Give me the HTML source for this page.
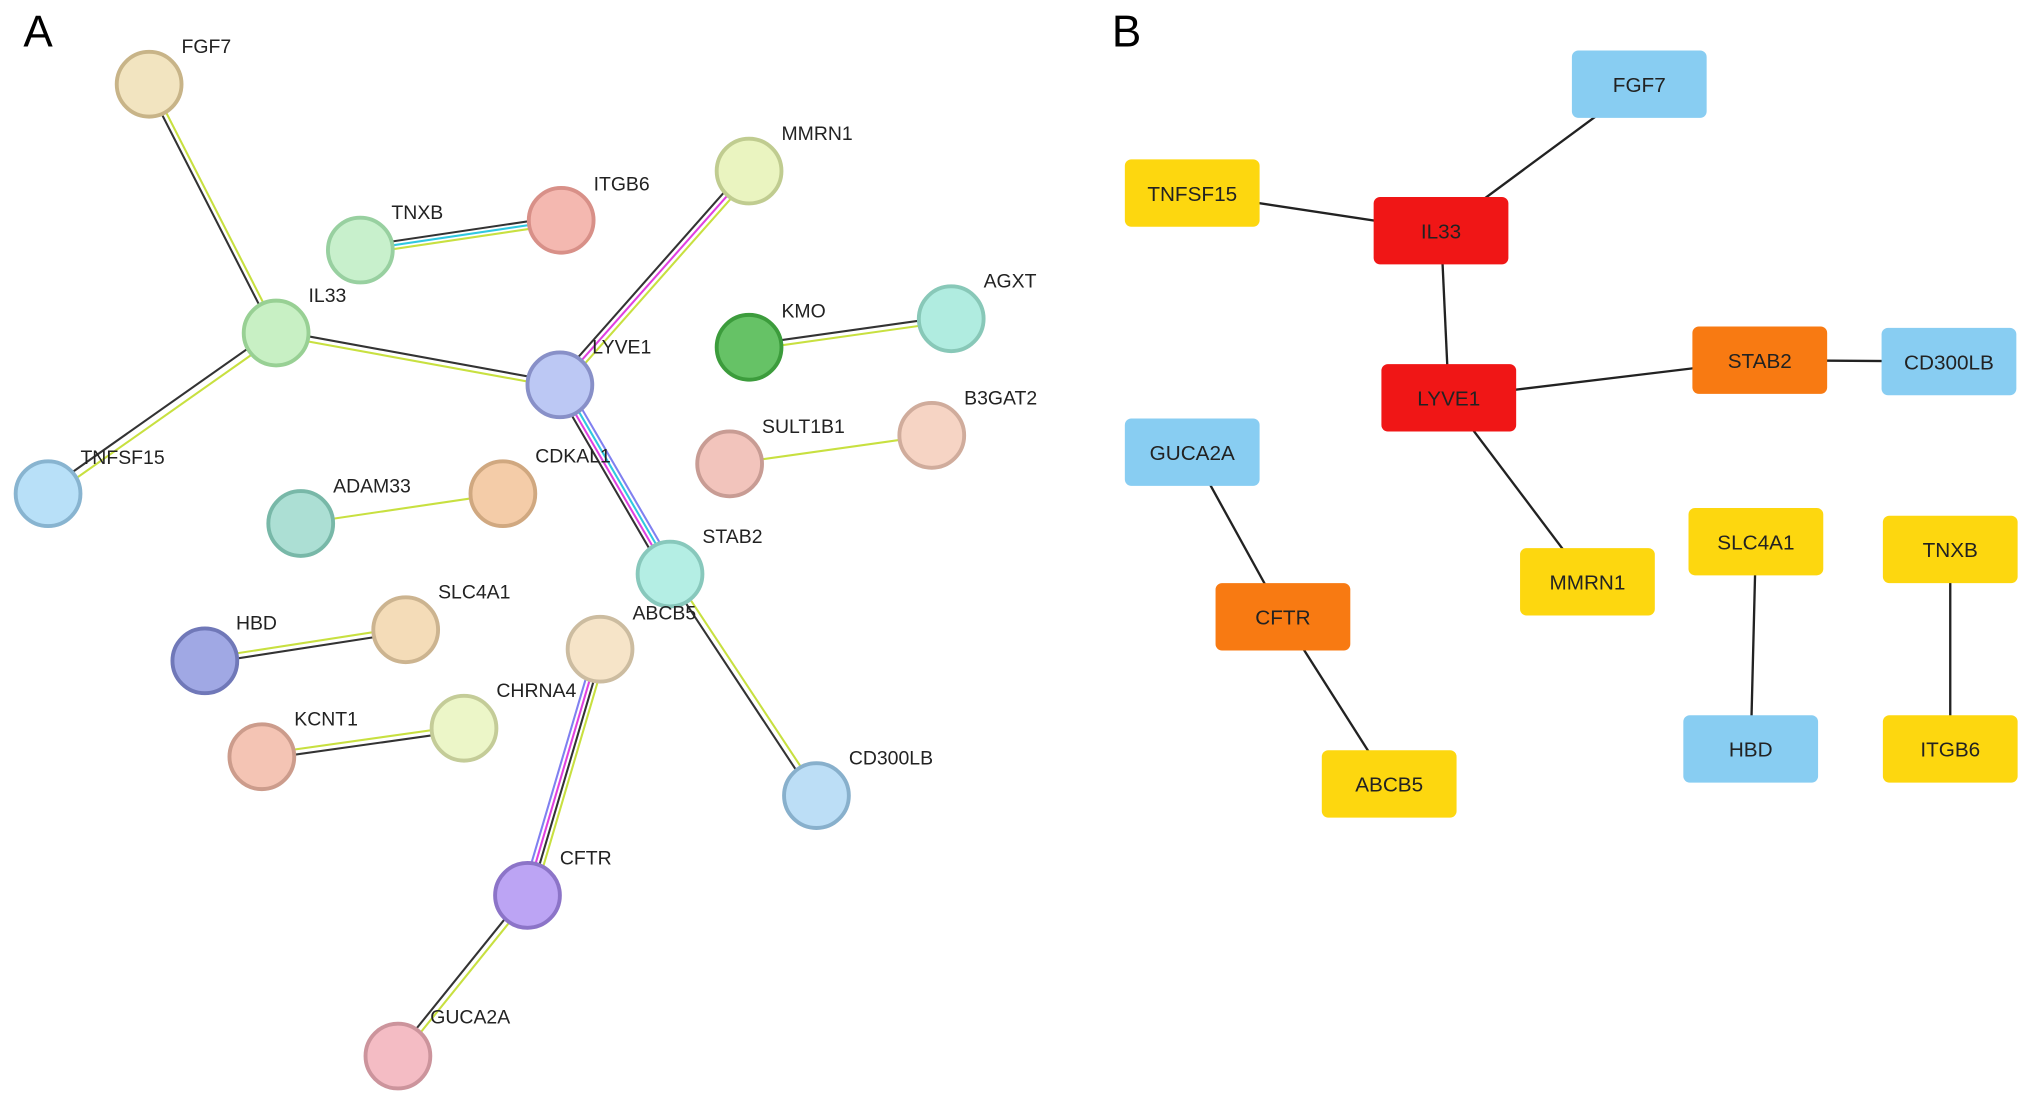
<!DOCTYPE html>
<html><head><meta charset="utf-8"><style>
html,body{margin:0;padding:0;background:#fff;}
svg{display:block;}
text{font-family:"Liberation Sans",Arial,sans-serif;}
</style></head><body>
<svg width="2032" height="1104" viewBox="0 0 1568 852" xmlns="http://www.w3.org/2000/svg">
<rect width="1568" height="852" fill="#fff"/>
<text x="18" y="36" font-size="34">A</text>
<text x="858" y="36" font-size="34">B</text>
<g id="edgesA" stroke-width="1.6" fill="none">
<!-- FGF7-IL33 -->
<line x1="113" y1="65" x2="211" y2="257" stroke="#333"/><line x1="117" y1="65" x2="215" y2="257" stroke="#c8e040"/>
<!-- IL33-TNFSF15 -->
<line x1="211" y1="255" x2="35" y2="379" stroke="#333"/><line x1="215" y1="259" x2="39" y2="383" stroke="#c8e040"/>
<!-- IL33-LYVE1 -->
<line x1="213" y1="255" x2="432" y2="295" stroke="#333"/><line x1="213" y1="259" x2="432" y2="299" stroke="#c8e040"/>
<!-- TNXB-ITGB6 -->
<line x1="278" y1="190" x2="433" y2="167" stroke="#333"/><line x1="278" y1="193" x2="433" y2="170" stroke="#30c8e0"/><line x1="278" y1="196" x2="433" y2="173" stroke="#c8e040"/>
<!-- LYVE1-MMRN1 -->
<line x1="429" y1="295" x2="575" y2="130" stroke="#333"/><line x1="432" y1="297" x2="578" y2="132" stroke="#e040e0"/><line x1="435" y1="299" x2="581" y2="134" stroke="#c8e040"/>
<!-- LYVE1-STAB2 -->
<line x1="428" y1="298" x2="513" y2="444" stroke="#333"/><line x1="431" y1="297" x2="516" y2="443" stroke="#e040e0"/><line x1="434" y1="296" x2="519" y2="442" stroke="#30c8e0"/><line x1="437" y1="295" x2="522" y2="441" stroke="#8080f0"/>
<!-- KMO-AGXT -->
<line x1="578" y1="266" x2="734" y2="244" stroke="#333"/><line x1="578" y1="270" x2="734" y2="248" stroke="#c8e040"/>
<!-- SULT1B1-B3GAT2 -->
<line x1="563" y1="358" x2="719" y2="336" stroke="#c8e040"/>
<!-- ADAM33-CDKAL1 -->
<line x1="232" y1="404" x2="388" y2="381" stroke="#c8e040"/>
<!-- HBD-SLC4A1 -->
<line x1="158" y1="508" x2="313" y2="484" stroke="#c8e040"/><line x1="158" y1="512" x2="313" y2="488" stroke="#333"/>
<!-- KCNT1-CHRNA4 -->
<line x1="202" y1="582" x2="358" y2="560" stroke="#c8e040"/><line x1="202" y1="586" x2="358" y2="564" stroke="#333"/>
<!-- STAB2-CD300LB -->
<line x1="515" y1="444" x2="628" y2="615" stroke="#333"/><line x1="519" y1="442" x2="632" y2="613" stroke="#c8e040"/>
<!-- ABCB5-CFTR -->
<line x1="459" y1="500" x2="403" y2="690" stroke="#8080f0"/><line x1="462" y1="501" x2="406" y2="691" stroke="#e040e0"/><line x1="465" y1="502" x2="409" y2="692" stroke="#333"/><line x1="468" y1="503" x2="412" y2="693" stroke="#c8e040"/>
<!-- CFTR-GUCA2A -->
<line x1="405" y1="690" x2="305" y2="814" stroke="#333"/><line x1="409" y1="692" x2="309" y2="816" stroke="#c8e040"/>
</g>
<g stroke-width="3">
<circle cx="115" cy="65" r="25" fill="#f2e4c0" stroke="#c8b488"/>
<circle cx="278" cy="193" r="25" fill="#c8f0cc" stroke="#98d0a0"/>
<circle cx="433" cy="170" r="25" fill="#f4b8b0" stroke="#d89088"/>
<circle cx="578" cy="132" r="25" fill="#eaf4c0" stroke="#c0cc90"/>
<circle cx="213" cy="257" r="25" fill="#c8f0c4" stroke="#98d094"/>
<circle cx="432" cy="297" r="25" fill="#bcc8f4" stroke="#8890c8"/>
<circle cx="578" cy="268" r="25" fill="#66c266" stroke="#3c9c3c"/>
<circle cx="734" cy="246" r="25" fill="#b0ece0" stroke="#88c8b8"/>
<circle cx="37" cy="381" r="25" fill="#b8e0f8" stroke="#88b4d0"/>
<circle cx="388" cy="381" r="25" fill="#f4cca8" stroke="#d0a880"/>
<circle cx="563" cy="358" r="25" fill="#f2c4bc" stroke="#c89c94"/>
<circle cx="719" cy="336" r="25" fill="#f6d4c4" stroke="#d0ac9c"/>
<circle cx="232" cy="404" r="25" fill="#acdfd4" stroke="#78b8a8"/>
<circle cx="517" cy="443" r="25" fill="#b4eee4" stroke="#88c8bc"/>
<circle cx="158" cy="510" r="25" fill="#a0a8e4" stroke="#7078b8"/>
<circle cx="313" cy="486" r="25" fill="#f4dcb8" stroke="#ccb490"/>
<circle cx="463" cy="501" r="25" fill="#f6e4c8" stroke="#ccbca0"/>
<circle cx="358" cy="562" r="25" fill="#ecf6c8" stroke="#c4cc98"/>
<circle cx="202" cy="584" r="25" fill="#f4c4b4" stroke="#cc9c8c"/>
<circle cx="630" cy="614" r="25" fill="#bcdef6" stroke="#88b0cc"/>
<circle cx="407" cy="691" r="25" fill="#bca4f4" stroke="#8c74c8"/>
<circle cx="307" cy="815" r="25" fill="#f4bcc4" stroke="#cc949c"/>
</g>
<g font-size="15" fill="#222">
<text x="140" y="41">FGF7</text><text x="302" y="169">TNXB</text><text x="458" y="147">ITGB6</text>
<text x="603" y="108">MMRN1</text><text x="238" y="233">IL33</text><text x="457" y="273">LYVE1</text>
<text x="603" y="245">KMO</text><text x="759" y="222">AGXT</text><text x="62" y="358">TNFSF15</text>
<text x="413" y="357">CDKAL1</text><text x="588" y="334">SULT1B1</text><text x="744" y="312">B3GAT2</text>
<text x="257" y="380">ADAM33</text><text x="542" y="419">STAB2</text><text x="182" y="486">HBD</text>
<text x="338" y="462">SLC4A1</text><text x="488" y="478">ABCB5</text><text x="383" y="538">CHRNA4</text>
<text x="227" y="560">KCNT1</text><text x="655" y="590">CD300LB</text><text x="432" y="667">CFTR</text>
<text x="332" y="790">GUCA2A</text>
</g>
<g stroke="#222" stroke-width="1.8">
<line x1="1112" y1="178" x2="1265" y2="65"/><line x1="1112" y1="178" x2="920" y2="149"/>
<line x1="1112" y1="178" x2="1118" y2="307"/><line x1="1118" y1="307" x2="1358" y2="278"/>
<line x1="1358" y1="278" x2="1504" y2="279"/><line x1="1118" y1="307" x2="1225" y2="449"/>
<line x1="920" y1="349" x2="990" y2="476"/><line x1="990" y1="476" x2="1072" y2="605"/>
<line x1="1355" y1="418" x2="1351" y2="578"/><line x1="1505" y1="424" x2="1505" y2="578"/>
</g>
<g font-size="16" text-anchor="middle">
<g fill="#88cdf2"><rect x="1213" y="39" width="104" height="52" rx="5"/><rect x="1452" y="253" width="104" height="52" rx="5"/><rect x="868" y="323" width="104" height="52" rx="5"/><rect x="1299" y="552" width="104" height="52" rx="5"/></g>
<g fill="#fdd70f"><rect x="868" y="123" width="104" height="52" rx="5"/><rect x="1173" y="423" width="104" height="52" rx="5"/><rect x="1303" y="392" width="104" height="52" rx="5"/><rect x="1453" y="398" width="104" height="52" rx="5"/><rect x="1453" y="552" width="104" height="52" rx="5"/><rect x="1020" y="579" width="104" height="52" rx="5"/></g>
<g fill="#f01616"><rect x="1060" y="152" width="104" height="52" rx="5"/><rect x="1066" y="281" width="104" height="52" rx="5"/></g>
<g fill="#f87a12"><rect x="1306" y="252" width="104" height="52" rx="5"/><rect x="938" y="450" width="104" height="52" rx="5"/></g>
<g fill="#222">
<text x="1265" y="71">FGF7</text><text x="1504" y="285">CD300LB</text><text x="920" y="355">GUCA2A</text><text x="1351" y="584">HBD</text>
<text x="920" y="155">TNFSF15</text><text x="1225" y="455">MMRN1</text><text x="1355" y="424">SLC4A1</text><text x="1505" y="430">TNXB</text>
<text x="1505" y="584">ITGB6</text><text x="1072" y="611">ABCB5</text>
<text x="1112" y="184">IL33</text><text x="1118" y="313">LYVE1</text><text x="1358" y="284">STAB2</text><text x="990" y="482">CFTR</text>
</g>
</g>
</svg>
</body></html>
